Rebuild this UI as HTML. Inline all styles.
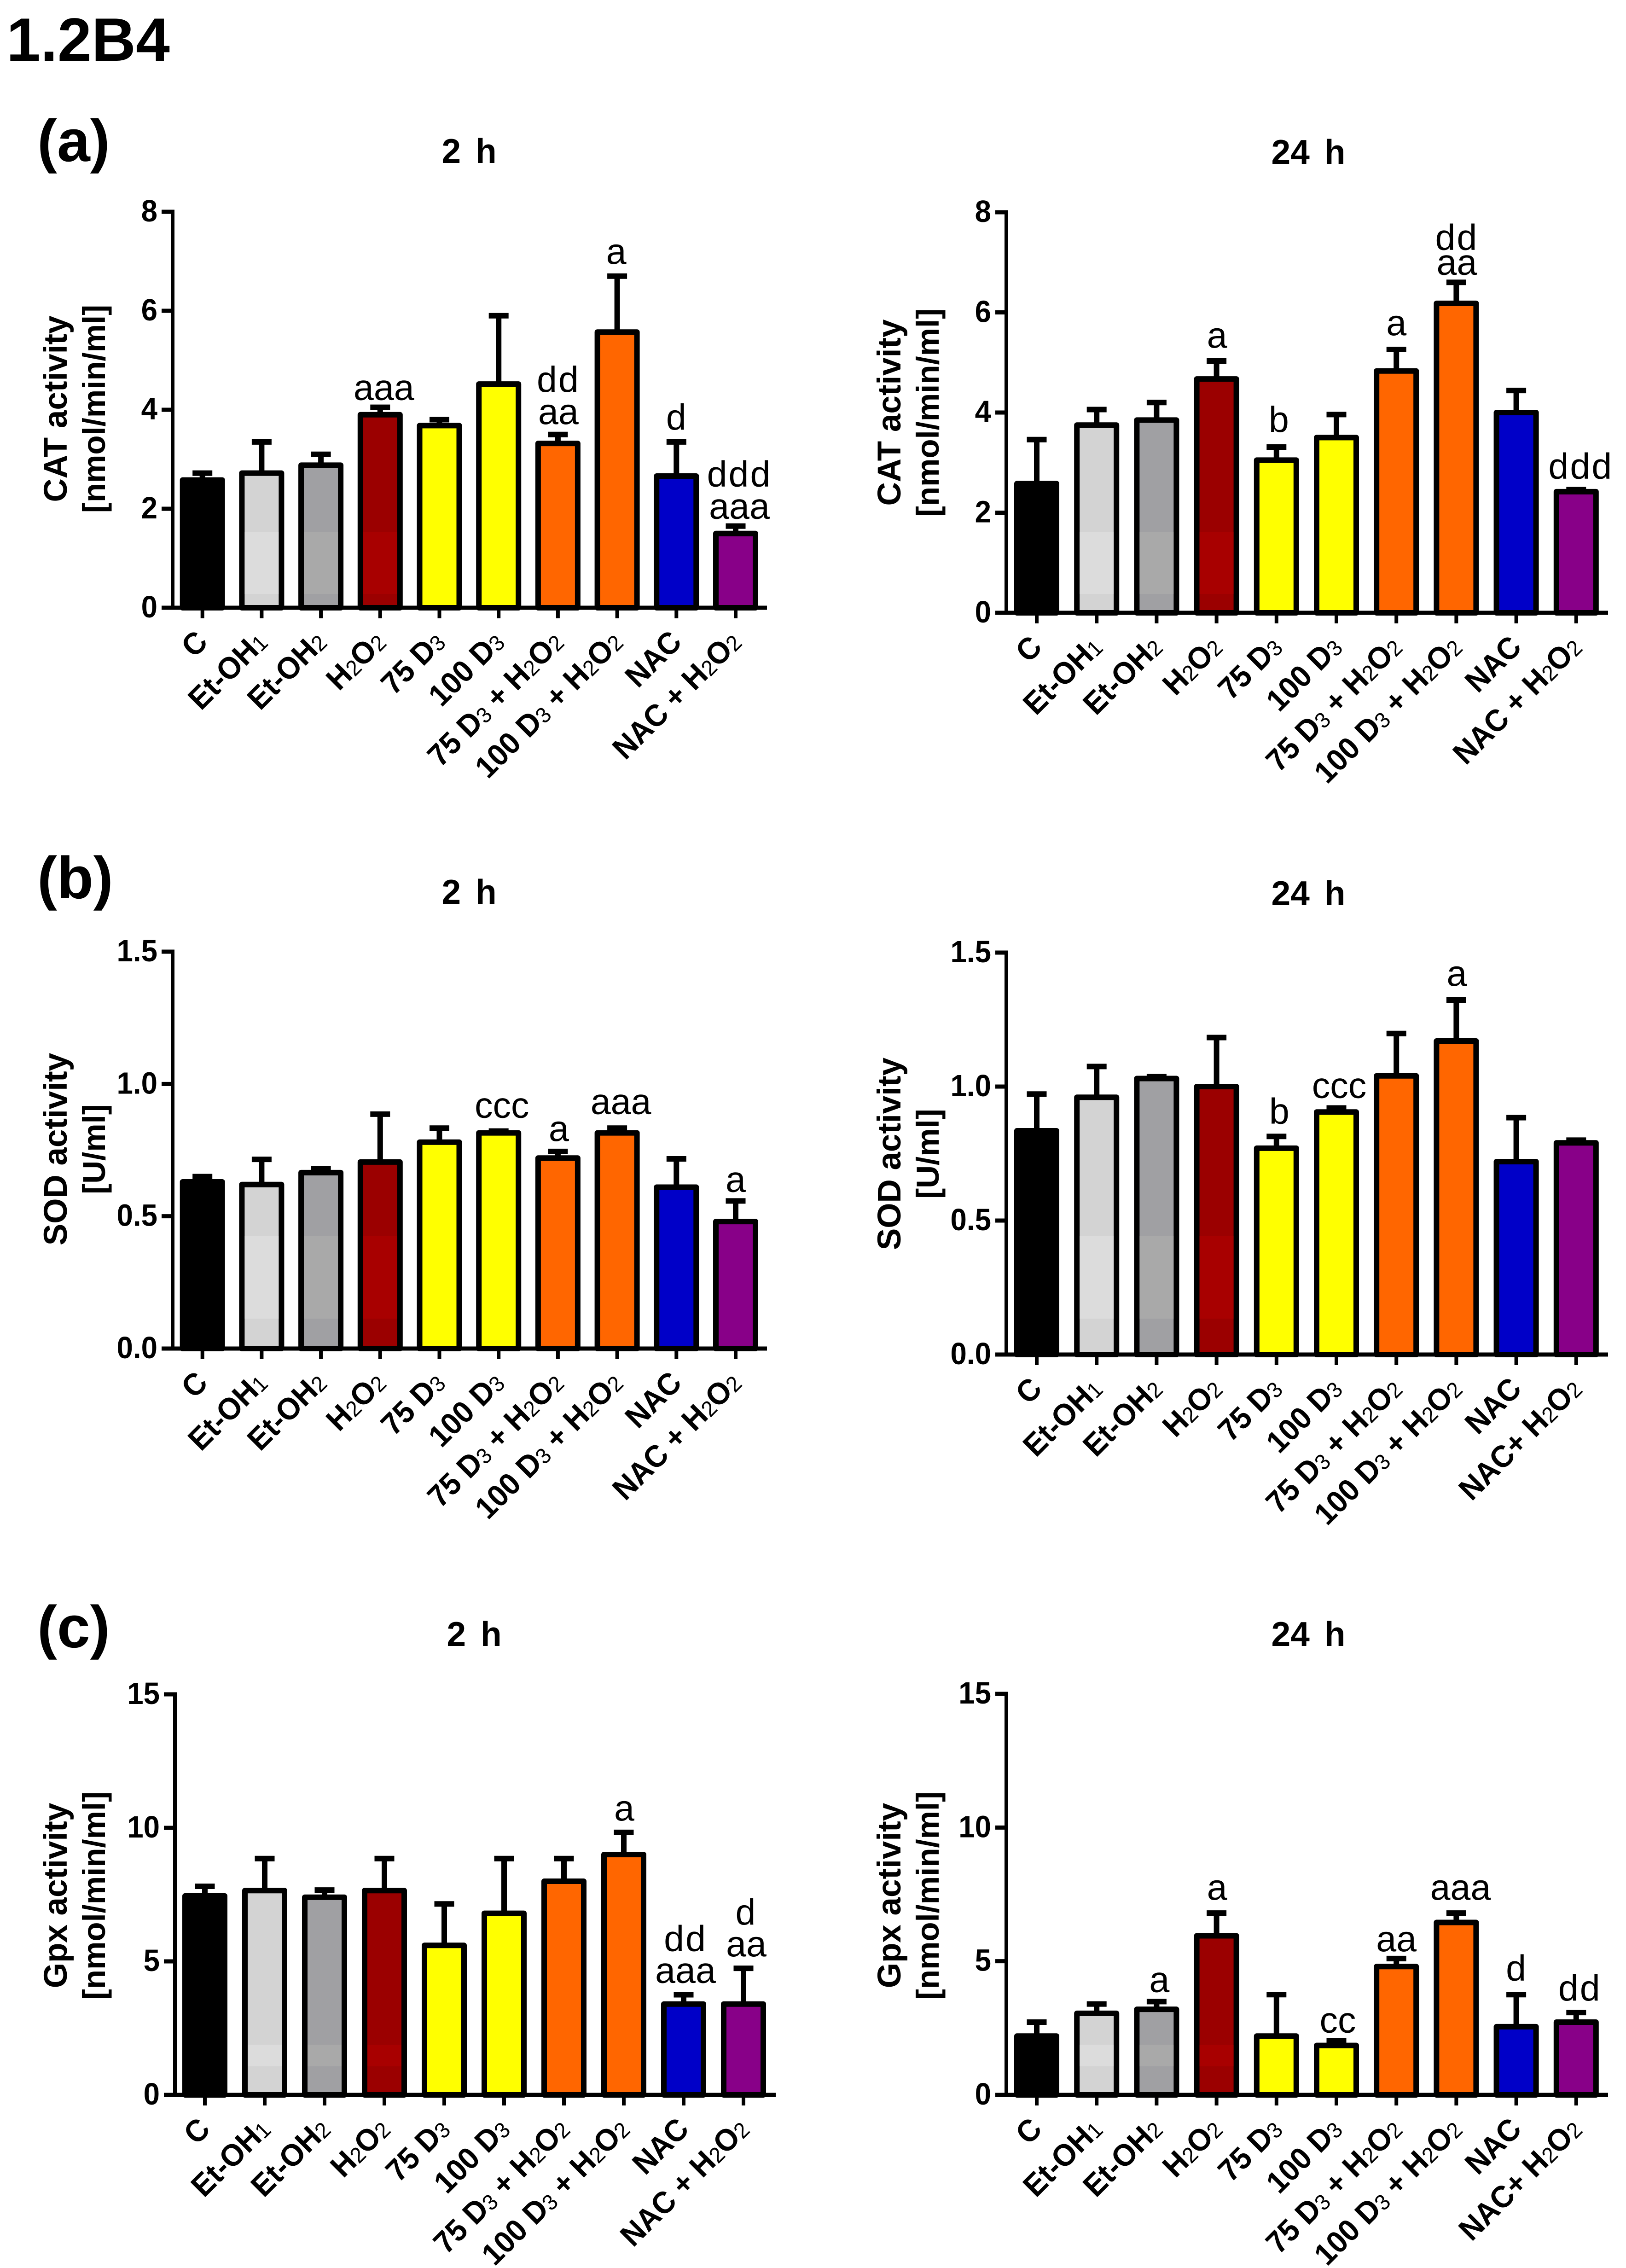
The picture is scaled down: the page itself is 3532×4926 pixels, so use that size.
<!DOCTYPE html>
<html lang="en">
<head>
<meta charset="utf-8">
<title>1.2B4 antioxidant enzyme activity</title>
<style>
html,body{margin:0;padding:0;background:#fff;}
svg{display:block;}
text{font-family:"Liberation Sans",Arial,sans-serif;fill:#000;}
.b{font-weight:700;}
</style>
</head>
<body>
<svg id="chart" xmlns="http://www.w3.org/2000/svg" width="3532" height="4926" viewBox="0 0 3532 4926">
<rect x="0" y="0" width="3532" height="4926" fill="#fff"/>
<text class="b" x="14" y="132" font-size="133">1.2B4</text>
<text class="b" x="81" y="350" font-size="129">(a)</text>
<text class="b" x="81" y="1951" font-size="129">(b)</text>
<text class="b" x="81" y="3578" font-size="129">(c)</text>
</svg>
<script>
// ---------- categories ----------
const labels = ['C','Et-OH_1','Et-OH_2','H_2O_2','75 D_3','100 D_3','75 D_3 + H_2O_2','100 D_3 + H_2O_2','NAC','NAC + H_2O_2'];
const labelsTight = ['C','Et-OH_1','Et-OH_2','H_2O_2','75 D_3','100 D_3','75 D_3 + H_2O_2','100 D_3 + H_2O_2','NAC','NAC+ H_2O_2'];

// ---------- series values (mean and top of error bar) ----------
const cat2hMeans = [2.58,2.72,2.88,3.9,3.68,4.52,3.32,5.57,2.66,1.5];
const cat2hErrTops = [2.72,3.35,3.1,4.05,3.8,5.9,3.5,6.7,3.35,1.65];
const cat24hMeans = [2.58,3.75,3.85,4.67,3.05,3.5,4.83,6.18,4.0,2.42];
const cat24hErrTops = [3.46,4.06,4.2,5.03,3.31,3.96,5.26,6.6,4.44,2.46];
const sod2hMeans = [0.63,0.62,0.665,0.705,0.78,0.815,0.72,0.815,0.61,0.48];
const sod2hErrTops = [0.65,0.715,0.68,0.886,0.833,0.822,0.745,0.833,0.717,0.558];
const sod24hMeans = [0.835,0.96,1.03,1.0,0.77,0.905,1.04,1.17,0.72,0.79];
const sod24hErrTops = [0.972,1.075,1.037,1.183,0.814,0.92,1.198,1.323,0.884,0.8];
const gpx2hMeans = [7.45,7.65,7.4,7.65,5.6,6.8,8.0,9.0,3.4,3.4];
const gpx2hErrTops = [7.81,8.85,7.67,8.85,7.15,8.85,8.85,9.83,3.75,4.74];
const gpx24hMeans = [2.2,3.05,3.2,5.95,2.2,1.85,4.8,6.45,2.55,2.72];
const gpx24hErrTops = [2.72,3.4,3.49,6.8,3.75,2.02,5.1,6.8,3.75,3.08];

// ---------- tick labels ----------
const catTicks = ['0','2','4','6','8'];
const sodTicks = ['0.0','0.5','1.0','1.5'];
const gpxTicks = ['0','5','10','15'];

// ---------- significance letters: one entry per bar, lines listed top to bottom ----------
const cat2hLetters = [[],[],[],['aaa'],[],[],['dd','aa'],['a'],['d'],['ddd','aaa']];
const cat24hLetters = [[],[],[],['a'],['b'],[],['a'],['dd','aa'],[],['ddd']];
const sod2hLetters = [[],[],[],[],[],['ccc'],['a'],['aaa'],[],['a']];
const sod24hLetters = [[],[],[],[],['b'],['ccc'],[],['a'],[],[]];
const gpx2hLetters = [[],[],[],[],[],[],[],['a'],['dd','aaa'],['d','aa']];
const gpx24hLetters = [[],[],['a'],['a'],[],['cc'],['aa'],['aaa'],['d'],['dd']];

// ---------- bar styling ----------
const barFills = ['#000000','#d3d3d3','#a0a0a3','#9b0000','#ffff00','#ffff00','#ff6600','#ff6600','#0000c8','#880088'];
const bandFills = ['#000000','#dcdcdc','#a9a9a9','#a80000','#ffff00','#ffff00','#ff6600','#ff6600','#0000c8','#880088'];

// ---------- panel layout (geometry only) ----------
const panels = [
 {id:'cat-2h',title:'2 h',titleX:1019,titleY:354,yTitle:['CAT activity','[nmol/min/ml]'],yTitleX:145,yTitleC:888,axisX:375,top:460,base:1320,xEnd:1666,first:439.7,step:128.7,max:8,ticks:catTicks,labels:labels,means:cat2hMeans,errs:cat2hErrTops,letters:cat2hLetters,band:[1155,1290],lineStep:70,gaps:[0,0,0,16,0,0,23,27,27,16],dxs:[0,0,0,8,0,0,1,-2,1,8]},
 {id:'cat-24h',title:'24 h',titleX:2842,titleY:356,yTitle:['CAT activity','[nmol/min/ml]'],yTitleX:1956,yTitleC:896,axisX:2186,top:461,base:1331,xEnd:3493,first:2252,step:130.2,max:8,ticks:catTicks,labels:labels,means:cat24hMeans,errs:cat24hErrTops,letters:cat24hLetters,band:[1155,1290],lineStep:54,gaps:[0,0,0,29,33,0,31,17,0,24],dxs:[0,0,0,1,5,0,0,1,0,10]},
 {id:'sod-2h',title:'2 h',titleX:1019,titleY:1963,yTitle:['SOD activity','[U/ml]'],yTitleX:145,yTitleC:2496,axisX:375,top:2067,base:2929,xEnd:1666,first:439.7,step:128.7,max:1.5,ticks:sodTicks,labels:labels,means:sod2hMeans,errs:sod2hErrTops,letters:sod2hLetters,band:[2685,2864],lineStep:70,gaps:[0,0,0,0,0,29,23,31,0,20],dxs:[0,0,0,0,0,7,2,8,0,0]},
 {id:'sod-24h',title:'24 h',titleX:2842,titleY:1966,yTitle:['SOD activity','[U/ml]'],yTitleX:1956,yTitleC:2506,axisX:2186,top:2069,base:2942,xEnd:3493,first:2252,step:130.2,max:1.5,ticks:sodTicks,labels:labelsTight,means:sod24hMeans,errs:sod24hErrTops,letters:sod24hLetters,band:[2685,2864],lineStep:70,gaps:[0,0,0,0,28,22,0,31,0,0],dxs:[0,0,0,0,6,6,0,1,0,0]},
 {id:'gpx-2h',title:'2 h',titleX:1030,titleY:3575,yTitle:['Gpx activity','[nmol/min/ml]'],yTitleX:145,yTitleC:4117,axisX:380,top:3680,base:4550,xEnd:1685,first:445,step:130,max:15,ticks:gpxTicks,labels:labels,means:gpx2hMeans,errs:gpx2hErrTops,letters:gpx2hLetters,band:[4441,4488],lineStep:69,gaps:[0,0,0,0,0,0,0,26,26,26],dxs:[0,0,0,0,0,0,0,1,4,6]},
 {id:'gpx-24h',title:'24 h',titleX:2842,titleY:3575,yTitle:['Gpx activity','[nmol/min/ml]'],yTitleX:1956,yTitleC:4117,axisX:2186,top:3679,base:4550,xEnd:3493,first:2252,step:130.2,max:15,ticks:gpxTicks,labels:labelsTight,means:gpx24hMeans,errs:gpx24hErrTops,letters:gpx24hLetters,band:[4441,4488],lineStep:69,gaps:[0,0,21,29,0,18,16,29,31,26],dxs:[0,0,6,1,0,3,0,9,1,8]}
];

const NS = 'http://www.w3.org/2000/svg';
const svg = document.getElementById('chart');

function make(parent, tag, attrs, text) {
  const el = document.createElementNS(NS, tag);
  for (const k in attrs) el.setAttribute(k, attrs[k]);
  if (text !== undefined) el.textContent = text;
  parent.appendChild(el);
  return el;
}

function xScale(p, i) { return p.first + i * p.step; }
function yScale(p, v) { return p.base - (v / p.max) * (p.base - p.top); }

function addLabelText(textEl, label) {
  const parts = label.split(/_(\d)/);
  let shifted = false;
  parts.forEach(function (part, idx) {
    if (part === '') return;
    const isSub = idx % 2 === 1;
    const span = document.createElementNS(NS, 'tspan');
    span.textContent = part;
    if (isSub) {
      span.setAttribute('font-size', '48');
      span.setAttribute('font-weight', '400');
      span.setAttribute('dy', '2');
      shifted = true;
    } else if (shifted) {
      span.setAttribute('dy', '-2');
      shifted = false;
    }
    textEl.appendChild(span);
  });
}

panels.forEach(function (p) {
  const g = make(svg, 'g', {});
  
  

  const title = make(g, 'text', {x: p.titleX, y: p.titleY, 'font-size': 75, 'font-weight': 700, 'text-anchor': 'middle', 'word-spacing': 11}, p.title);
  
  

  p.yTitle.forEach(function (line, n) {
    const tx = p.yTitleX + n * 83;
    const t = make(g, 'text', {x: tx, y: p.yTitleC, 'font-size': n === 0 ? 71 : 69, 'font-weight': 700, 'text-anchor': 'middle', transform: 'rotate(-90 ' + tx + ' ' + p.yTitleC + ')'}, line);
    
    
  });

  // bars and error bars
  p.means.forEach(function (m, i) {
    const cx = xScale(p, i);
    const barTop = yScale(p, m);
    const errTop = yScale(p, p.errs[i]);

    const stem = make(g, 'line', {x1: cx, x2: cx, y1: barTop, y2: errTop, stroke: '#000', 'stroke-width': 12});
    
    

    const cap = make(g, 'line', {x1: cx - 21.5, x2: cx + 21.5, y1: errTop, y2: errTop, stroke: '#000', 'stroke-width': 12});
    
    

    const bar = make(g, 'rect', {x: cx - 43, y: barTop, width: 86, height: p.base - barTop, fill: barFills[i], stroke: '#000', 'stroke-width': 12, 'stroke-linejoin': 'round'});
    
    

    const bandTop = Math.max(p.band[0], barTop + 6);
    const bandBottom = Math.min(p.band[1], p.base);
    if (bandFills[i] !== barFills[i] && bandBottom > bandTop) {
      const band = make(g, 'rect', {x: cx - 37, y: bandTop, width: 74, height: bandBottom - bandTop, fill: bandFills[i]});
      
      
    }

    // significance letters stacked above the error cap
    const lines = p.letters[i];
    lines.forEach(function (txt, n) {
      const fromBottom = lines.length - 1 - n;
      const ly = errTop - p.gaps[i] - fromBottom * p.lineStep;
      const spacing = txt.charAt(0) === 'd' ? 3 : 0;
      const t = make(g, 'text', {x: cx + p.dxs[i], y: ly, 'font-size': 79, 'font-weight': 400, 'text-anchor': 'middle', 'letter-spacing': spacing}, txt);
      
      
    });

    // x tick + label
    const tick = make(g, 'line', {x1: cx, x2: cx, y1: p.base, y2: p.base + 23, stroke: '#000', 'stroke-width': 8});
    
    

    const ax = cx + 15;
    const ay = p.base + 78;
    const lab = make(g, 'text', {'font-size': 67, 'font-weight': 700, 'text-anchor': 'end', transform: 'translate(' + ax + ' ' + ay + ') rotate(-45) scale(0.96 1)'});
    addLabelText(lab, p.labels[i]);
    
    
  });

  // axes
  const yAxis = make(g, 'line', {x1: p.axisX, x2: p.axisX, y1: p.top - 4.5, y2: p.base + 4.5, stroke: '#000', 'stroke-width': 8});
  
  

  const xAxis = make(g, 'line', {x1: p.axisX, x2: p.xEnd, y1: p.base, y2: p.base, stroke: '#000', 'stroke-width': 9});
  
  

  p.ticks.forEach(function (lbl) {
    const ty = yScale(p, parseFloat(lbl));
    const tk = make(g, 'line', {x1: p.axisX - 24, x2: p.axisX, y1: ty, y2: ty, stroke: '#000', 'stroke-width': 9});
    
    

    const rx = p.axisX - 33;
    const ry = ty + 21;
    const t = make(g, 'text', {'font-size': 67, 'font-weight': 700, 'text-anchor': 'end', transform: 'translate(' + rx + ' ' + ry + ') scale(0.95 1)'}, lbl);
    
    
  });
});
</script>
</body>
</html>
